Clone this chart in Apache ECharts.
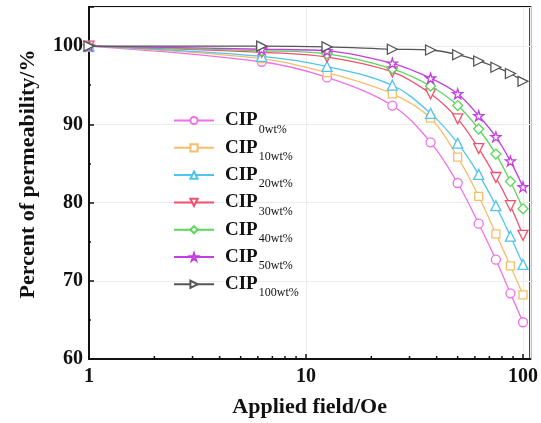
<!DOCTYPE html>
<html>
<head>
<meta charset="utf-8">
<script src="https://cdn.jsdelivr.net/npm/echarts@6/dist/echarts.min.js"></script>
<style>html,body{margin:0;padding:0;background:#fff;}#c{width:541px;height:423px;}</style>
</head>
<body>
<div id="c"></div>
<script>
const fields = [1, 6.25, 12.5, 25, 37.5, 50, 62.5, 75, 87.5, 100];
const cip0   = [100, 98.0, 96.0, 92.4, 87.7, 82.5, 77.3, 72.7, 68.4, 64.7];
const cip10  = [100, 98.4, 96.6, 93.9, 90.8, 85.8, 80.8, 76.0, 71.9, 68.2];
const cip20  = [100, 98.7, 97.4, 95.0, 91.4, 87.6, 83.6, 79.6, 75.7, 72.1];
const cip30  = [100, 99.2, 98.6, 96.7, 93.9, 90.7, 86.9, 83.2, 79.6, 75.8];
const cip40  = [100, 99.4, 99.0, 97.1, 94.9, 92.4, 89.4, 86.2, 82.7, 79.2];
const cip50  = [100, 99.6, 99.4, 97.8, 95.9, 93.9, 91.1, 88.4, 85.3, 82.0];
const cip100 = [100, 100, 99.9, 99.6, 99.5, 98.9, 98.1, 97.3, 96.5, 95.5];
const seriesNames = ['CIP0wt%', 'CIP10wt%', 'CIP20wt%', 'CIP30wt%', 'CIP40wt%', 'CIP50wt%', 'CIP100wt%'];
const xMinorTicks = [2, 3, 4, 5, 6, 7, 8, 9, 20, 30, 40, 50, 60, 70, 80, 90];

const STAR = 'path://M50,0 L61.8,35.4 L100,35.4 L69.1,57.3 L80.9,92.7 L50,70.8 L19.1,92.7 L30.9,57.3 L0,35.4 L38.2,35.4 Z';
const TRI_DOWN = 'path://M0,0 L100,0 L50,90 Z';
const TRI_RIGHT = 'path://M0,0 L90,50 L0,100 Z';

const values = [cip0, cip10, cip20, cip30, cip40, cip50, cip100];
const colors = ['#f070e6', '#f7bd6a', '#4fc4ee', '#f2506e', '#5cd65c', '#c23ee0', '#555555'];
const symbols = ['circle', 'rect', 'triangle', TRI_DOWN, 'diamond', STAR, TRI_RIGHT];
const sizes = [9, 8, 10, 10, 10, 10, 10];

const serif = 'Liberation Serif';
const lineSeries = values.map((v, i) => ({
  name: seriesNames[i],
  type: 'line',
  smooth: 0.35,
  data: fields.map((f, j) => [f, v[j]]),
  symbol: symbols[i],
  symbolSize: sizes[i],
  showAllSymbol: true,
  lineStyle: { color: colors[i], width: 1.3 },
  itemStyle: { color: '#fff', borderColor: colors[i], borderWidth: 1.3 },
  z: 3 + i
}));

const minorTickSeries = {
  type: 'custom',
  silent: true,
  clip: false,
  z: 20,
  data: xMinorTicks.map(v => [v]),
  renderItem: function (params, api) {
    const p = api.coord([api.value(0), 60]);
    return { type: 'line', shape: { x1: p[0], y1: p[1], x2: p[0], y2: p[1] - 3 }, style: { stroke: '#111', lineWidth: 1.5 } };
  }
};

const chart = echarts.init(document.getElementById('c'), null, { renderer: 'canvas' });
chart.setOption({
  animation: false,
  backgroundColor: '#fff',
  grid: { left: 89, right: 8, top: 7, bottom: 59, show: true, borderColor: '#111', borderWidth: 2, backgroundColor: 'transparent' },
  xAxis: {
    type: 'log', logBase: 10, min: 1, max: 108,
    name: 'Applied field/Oe', nameLocation: 'middle', nameGap: 37,
    nameTextStyle: { fontFamily: serif, fontWeight: 'bold', fontSize: 22, color: '#111' },
    axisLine: { show: true, lineStyle: { color: '#111', width: 2 } },
    axisTick: { show: true, inside: true, length: 5, lineStyle: { color: '#111', width: 1.5 } },
    axisLabel: { fontFamily: serif, fontWeight: 'bold', fontSize: 20, color: '#111', margin: 8, showMaxLabel: false,
      formatter: v => String(Math.round(v)) },
    splitLine: { show: true, lineStyle: { color: '#ececec', width: 1 } },
    minorTick: { show: false }
  },
  yAxis: {
    type: 'value', min: 60, max: 105, interval: 10,
    name: 'Percent of permeability/%', nameLocation: 'middle', nameGap: 50,
    nameTextStyle: { fontFamily: serif, fontWeight: 'bold', fontSize: 22, color: '#111', padding: [0, 0, 0, 18] },
    axisLine: { show: true, lineStyle: { color: '#111', width: 2 } },
    axisTick: { show: true, inside: true, length: 5, lineStyle: { color: '#111', width: 1.5 } },
    minorTick: { show: true, splitNumber: 2, length: 2, lineStyle: { color: '#111', width: 1.5 } },
    axisLabel: { fontFamily: serif, fontWeight: 'bold', fontSize: 20, color: '#111', margin: 6, showMaxLabel: false },
    splitLine: { show: true, lineStyle: { color: '#ececec', width: 1 } }
  },
  legend: {
    data: seriesNames,
    orient: 'vertical',
    left: 173, top: 111, padding: 0,
    itemWidth: 40, itemHeight: 9, itemGap: 2.8,
    formatter: function (name) {
      const sub = name.replace('CIP', '');
      return '{a|CIP}{b|' + sub + '}';
    },
    textStyle: {
      color: '#111',
      rich: {
        a: { fontFamily: serif, fontWeight: 'bold', fontSize: 19, lineHeight: 22, color: '#111', verticalAlign: 'middle', padding: [0, 0, 0, 6] },
        b: { fontFamily: serif, fontSize: 12, color: '#111', padding: [18, 0, 0, 1], verticalAlign: 'middle' }
      }
    }
  },
  series: lineSeries.concat([minorTickSeries])
});
</script>
</body>
</html>
